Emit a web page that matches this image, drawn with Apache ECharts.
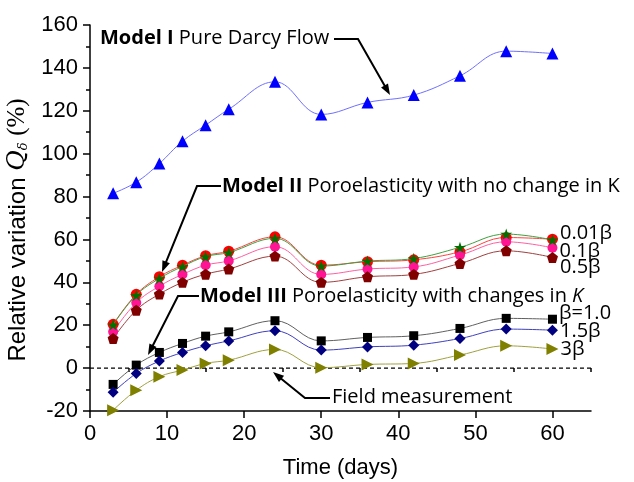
<!DOCTYPE html>
<html>
<head>
<meta charset="utf-8">
<script src="https://cdn.jsdelivr.net/npm/echarts@6/dist/echarts.min.js"></script>
<style>
  html, body { margin: 0; padding: 0; background: #fff; }
  #chart { width: 634px; height: 482px; }
</style>
</head>
<body>
<div id="chart"></div>
<script>
// Sampling days
const days = [3, 6, 9, 12, 15, 18, 24, 30, 36, 42, 48, 54, 60];

// Model I: pure Darcy flow
const modelI = [81.5, 86.7, 95.4, 105.8, 113.3, 120.7, 133.5, 118.3, 123.9, 127.3, 136.3, 147.8, 146.7];

// Model II: poroelasticity, constant K
const modelII_001 = [20.4, 34.4, 42.6, 48.0, 52.4, 54.5, 61.2, 48.0, 49.6, 50.5, 54.2, 60.9, 60.1];
const modelII_star = [20.2, 34.0, 41.8, 47.4, 52.0, 53.9, 60.5, 47.6, 49.9, 51.1, 56.3, 62.5, 59.8];
const modelII_01 = [16.9, 30.5, 38.2, 43.7, 48.0, 50.0, 56.6, 43.7, 46.2, 47.2, 52.7, 58.9, 56.1];
const modelII_05 = [13.8, 27.0, 34.5, 40.0, 43.8, 46.2, 52.2, 40.0, 42.6, 43.7, 48.8, 54.7, 51.6];

// Model III: poroelasticity, K changing
const modelIII_10 = [-7.6, 1.4, 7.3, 11.5, 14.9, 16.9, 22.1, 12.7, 14.3, 15.1, 18.5, 23.2, 22.8];
const modelIII_15 = [-11.3, -2.5, 3.3, 7.3, 10.4, 12.7, 17.4, 8.4, 9.9, 10.7, 13.8, 18.2, 17.7];
const modelIII_30 = [-19.6, -10.3, -4.0, -0.9, 2.2, 3.7, 8.7, 0.2, 1.7, 2.2, 6.1, 10.4, 8.9];

// Field measurement reference (zero line)
const fieldDays = [0, 65];
const fieldValues = [0, 0];

// End-of-curve labels
const endLabels = {
  m001: '0.01β', m01: '0.1β', m05: '0.5β',
  b10: 'β=1.0', b15: '1.5β', b30: '3β'
};

const STAR = 'path://M50,0 L61,35 L98,35 L68,57 L79,91 L50,70 L21,91 L32,57 L2,35 L39,35 Z';
const PENTAGON = 'path://M50,0 L98,36 L80,95 L20,95 L2,36 Z';

const labelFont = '"Open Sans", Lato, sans-serif';

function makeSeries(values, opts) {
  const last = values.length - 1;
  const data = values.map((v, i) => {
    const item = { value: [days[i], v] };
    if (i === last && opts.label) {
      item.label = {
        show: true, position: 'right', distance: 2,
        formatter: opts.label, offset: [0, opts.labelDy || 0],
        fontFamily: labelFont, fontSize: 20, color: '#000'
      };
    }
    return item;
  });
  return {
    type: 'line', data, smooth: 0.4,
    symbol: opts.symbol, symbolSize: opts.size, symbolRotate: opts.rotate || 0,
    symbolKeepAspect: true,
    itemStyle: { color: opts.color },
    lineStyle: { color: opts.line, width: 1 },
    z: opts.z || 2,
    animation: false
  };
}

const series = [
  makeSeries(modelI, { symbol: 'triangle', size: 12, color: '#0000ff', line: '#7070ff' }),
  makeSeries(modelII_001, { symbol: 'circle', size: 11, color: '#ff0000', line: '#ff4040', label: endLabels.m001, labelDy: -6 }),
  makeSeries(modelII_star, { symbol: STAR, size: 12, color: '#007000', line: '#40a040', z: 3 }),
  makeSeries(modelII_01, { symbol: 'circle', size: 10, color: '#ff1493', line: '#ff60a0', label: endLabels.m01, labelDy: 3 }),
  makeSeries(modelII_05, { symbol: PENTAGON, size: 11, color: '#800000', line: '#a04040', label: endLabels.m05, labelDy: 10 }),
  makeSeries(modelIII_10, { symbol: 'rect', size: 9, color: '#000000', line: '#606060', label: endLabels.b10, labelDy: -6 }),
  makeSeries(modelIII_15, { symbol: 'diamond', size: 11, color: '#000080', line: '#4040c0', label: endLabels.b15, labelDy: 1 }),
  makeSeries(modelIII_30, { symbol: 'triangle', size: 12, rotate: -90, color: '#808000', line: '#a0a040', label: endLabels.b30, labelDy: 0 }),
  {
    type: 'line', data: fieldDays.map((d, i) => [d, fieldValues[i]]),
    symbol: 'none', lineStyle: { color: '#000', width: 1.2, type: [4, 3] },
    z: 1, animation: false
  }
];

// Annotation callouts: text with an elbow leader ending in an arrowhead
function callout(text, tx, ty, pts) {
  const els = [];
  els.push({
    type: 'text', x: tx, y: ty,
    style: {
      text, fill: '#000', font: '20px ' + labelFont, verticalAlign: 'middle',
      rich: {
        b: { fontFamily: labelFont, fontSize: 20, fontWeight: 'bold', fill: '#000' },
        n: { fontFamily: labelFont, fontSize: 20, fill: '#000' },
        i: { fontFamily: labelFont, fontSize: 20, fontStyle: 'italic', fill: '#000' }
      }
    }
  });
  const n = pts.length;
  const [x1, y1] = pts[n - 2], [x2, y2] = pts[n - 1];
  const ang = Math.atan2(y2 - y1, x2 - x1);
  const L = 11, W = 4;
  const bx = x2 - L * Math.cos(ang), by = y2 - L * Math.sin(ang);
  const shaft = pts.slice(0, n - 1).concat([[bx + 2 * Math.cos(ang), by + 2 * Math.sin(ang)]]);
  els.push({ type: 'polyline', shape: { points: shaft }, style: { stroke: '#000', lineWidth: 2, fill: null } });
  els.push({
    type: 'polygon',
    shape: { points: [[x2, y2], [bx - W * Math.sin(ang), by + W * Math.cos(ang)], [bx + W * Math.sin(ang), by - W * Math.cos(ang)]] },
    style: { fill: '#000' }
  });
  return els;
}

const graphics = [].concat(
  callout('{b|Model I} {n|Pure Darcy Flow}', 100, 38, [[334, 39], [358, 39], [390, 95]]),
  callout('{b|Model II} {n|Poroelasticity with no change in K}', 222, 186, [[221, 186], [197, 186], [162, 272]]),
  callout('{b|Model III} {n|Poroelasticity with changes in }{i|K}', 200, 296, [[199, 296], [178, 296], [148, 355]]),
  callout('{n|Field measurement}', 332, 397, [[330, 398], [305, 398], [273, 372]])
);

const axisFont = '"Liberation Sans", Arial, sans-serif';

const option = {
  backgroundColor: '#fff',
  animation: false,
  grid: { left: 90, right: 43, top: 25, bottom: 71, outerBoundsMode: 'none', containLabel: false },
  xAxis: [{
    type: 'value', min: 0, max: 65, interval: 5,
    name: 'Time (days)', nameLocation: 'middle', nameGap: 46,
    nameTextStyle: { fontFamily: axisFont, fontSize: 22, color: '#000' },
    axisLine: { onZero: false, lineStyle: { color: '#000', width: 1.5 } },
    axisTick: { customValues: [0, 10, 20, 30, 40, 50, 60], length: 7, lineStyle: { color: '#000', width: 1.5 } },
    axisLabel: { customValues: [0, 10, 20, 30, 40, 50, 60], margin: 12, fontFamily: axisFont, fontSize: 22, color: '#000' },
    splitLine: { show: false }
  }, {
    type: 'value', min: 0, max: 65, interval: 5, position: 'bottom',
    axisLine: { show: false },
    axisTick: { customValues: [5, 15, 25, 35, 45, 55, 65], length: 4, lineStyle: { color: '#000', width: 1.5 } },
    axisLabel: { show: false },
    splitLine: { show: false }
  }],
  yAxis: {
    type: 'value', min: -20, max: 160, interval: 20,
    name: 'Relative variation {q|Q}{s|δ} {p|(%)}', nameLocation: 'middle', nameGap: 46, nameRotate: 90,
    nameTextStyle: {
      fontFamily: axisFont, fontSize: 24, color: '#000', padding: [0, 24, 0, 0],
      rich: {
        q: { fontFamily: '"DejaVu Serif", serif', fontStyle: 'italic', fontSize: 25, color: '#000' },
        s: { fontFamily: '"DejaVu Serif", serif', fontStyle: 'italic', fontSize: 13, color: '#000', verticalAlign: 'bottom' },
        p: { fontFamily: '"Liberation Serif", serif', fontSize: 25, color: '#000' }
      }
    },
    axisLine: { onZero: false, lineStyle: { color: '#000', width: 1.5 } },
    axisTick: { length: 7, lineStyle: { color: '#000', width: 1.5 } },
    minorTick: { show: true, splitNumber: 2, length: 4, lineStyle: { color: '#000', width: 1.5 } },
    axisLabel: { margin: 12, fontFamily: axisFont, fontSize: 22, color: '#000' },
    splitLine: { show: false }
  },
  series,
  graphic: graphics
};

const chart = echarts.init(document.getElementById('chart'));
chart.setOption(option);
</script>
</body>
</html>
